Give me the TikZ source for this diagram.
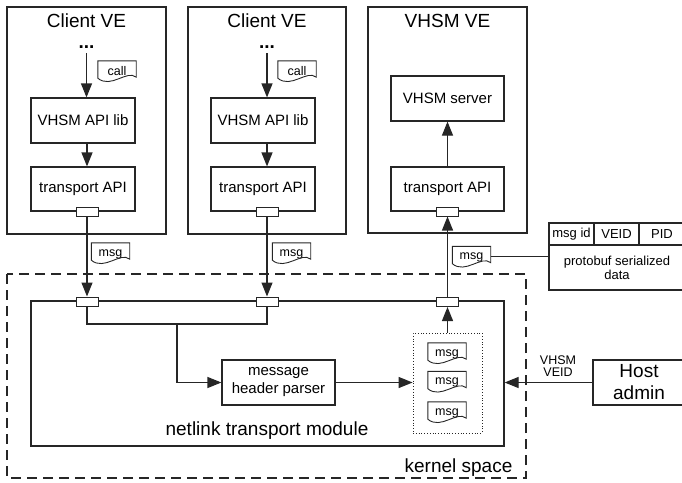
\documentclass[tikz,border=0pt]{standalone}
\usepackage{fontspec}
\setmainfont{Liberation Sans}
\usetikzlibrary{arrows.meta,calc}

\newcommand\fbig{\fontsize{19}{22}\selectfont}
\newcommand\fmid{\fontsize{15}{18}\selectfont}
\newcommand\fsml{\fontsize{12.5}{14}\selectfont}
\newcommand\ftab{\fontsize{13}{15}\selectfont}

% outline of a "document" symbol around a named node
\newcommand\docedge[1]{%
  \draw[ln,line width=0.9pt] (#1.north west) -- (#1.north east) -- ([yshift=4pt]#1.south east)
    .. controls ([xshift=-9pt,yshift=12pt]#1.south east) and ([xshift=13pt,yshift=-8pt]#1.south west)
    .. ([yshift=3pt]#1.south west) -- cycle;}

\tikzset{
  ln/.style={line width=1.2pt, draw=black!85},
  box/.style={draw=black!85, line width=1.2pt, inner sep=0pt, align=center, font=\fmid},
  arr/.style={ln, -{Triangle[length=14pt,width=11pt]}},
  port/.style={draw=black!85, line width=1pt, fill=white, minimum width=22pt, minimum height=9pt, inner sep=0pt},
  doc/.style={minimum width=38pt, minimum height=20pt, inner sep=0pt, font=\fsml, text depth=0pt},
}

\begin{document}
\begin{tikzpicture}[x=1pt,y=-1pt]
\useasboundingbox (0,0) rectangle (682,482);
\clip (0,0) rectangle (682,482);

% ---- virtual environments ----
\node[box, minimum width=159pt, minimum height=227pt] (ve1) at (86.5,120.5) {};
\node[box, minimum width=158pt, minimum height=227pt] (ve2) at (267,120.5) {};
\node[box, minimum width=159pt, minimum height=226pt] (ve3) at (447.5,120) {};
\node[font=\fbig, anchor=base] (t1) at (86.5,27) {Client VE};
\node[font=\fbig, anchor=base] (t2) at (267,27) {Client VE};
\node[font=\fbig, anchor=base] (t3) at (447.5,27) {VHSM VE};

% client 1
\node[font=\fbig\bfseries, inner sep=0pt, anchor=base] (dots1) at (86.5,48) {...};
\node[box, minimum width=104pt, minimum height=45pt] (api1) at (83,120.5) {VHSM API lib};
\node[box, minimum width=104pt, minimum height=44pt] (tr1) at (83,189) {transport API};
\node[port] (vp1) at (87,211.5) {};
\node[doc] (call1) at (117,71) {call};
\docedge{call1}

% client 2
\node[font=\fbig\bfseries, inner sep=0pt, anchor=base] (dots2) at (267,48) {...};
\node[box, minimum width=104pt, minimum height=45pt] (api2) at (263,120.5) {VHSM API lib};
\node[box, minimum width=104pt, minimum height=44pt] (tr2) at (263,189) {transport API};
\node[port] (vp2) at (267,211.5) {};
\node[doc] (call2) at (297,71) {call};
\docedge{call2}

% VHSM VE
\node[box, minimum width=113pt, minimum height=45pt] (srv) at (447.5,98.5) {VHSM server};
\node[box, minimum width=113pt, minimum height=44pt] (tr3) at (447.5,189) {transport API};
\node[port] (vp3) at (447.5,211.5) {};

% ---- kernel space ----
\draw[ln, dash pattern=on 10pt off 6pt] (7,274) rectangle (526,478);
\node[font=\fbig, anchor=base] (ks) at (458.5,472) {kernel space};
\node[box, minimum width=473pt, minimum height=145pt] (nl) at (267.5,373.5) {};
\node[font=\fbig, anchor=base] (nlt) at (267,435) {netlink transport module};
\node[box, minimum width=113pt, minimum height=45pt] (parser) at (278.5,382.5) {message\\header parser};
\node[draw=black!85, line width=0.8pt, dotted, minimum width=69pt, minimum height=100pt, inner sep=0pt] (queue) at (447.5,383) {};
\node[doc] (q1) at (447,353) {msg};
\node[doc] (q2) at (447,381.5) {msg};
\node[doc] (q3) at (447,412) {msg};
\docedge{q1}\docedge{q2}\docedge{q3}

% messages on the wire
\node[doc] (m1) at (110.5,253) {msg};
\node[doc] (m2) at (291.5,253) {msg};
\node[doc] (m3) at (471.5,256.5) {msg};
\docedge{m1}\docedge{m2}\docedge{m3}

% message layout
\node[draw=black!85, line width=1.1pt, minimum width=136pt, minimum height=67pt, inner sep=0pt] (pkt) at (617,256.5) {};
\coordinate (c1) at (594,223);
\coordinate (c2) at (639,223);
\coordinate (hr) at (549,245);
\draw[ln, line width=1.1pt] (hr) -- (hr -| pkt.east);
\draw[ln, line width=1.1pt] (c1) -- (c1 |- hr);
\draw[ln, line width=1.1pt] (c2) -- (c2 |- hr);
\node[font=\ftab] (fid) at (571.5,234) {msg id};
\node[font=\ftab] (fveid) at (616.5,234) {VEID};
\node[font=\ftab] (fpid) at (662,234) {PID};
\node[font=\ftab, align=center] (fbody) at (617,268) {protobuf serialized\\[-1pt]data};
\draw[ln, line width=1.1pt] (m3.east) -- (pkt.west |- m3.east);

% host admin
\node[box, font=\fbig, minimum width=92pt, minimum height=45pt] (host) at (639,382.5) {Host\\admin};
\node[font=\fsml, align=center, anchor=south] (lbl) at (558,380) {VHSM\\[-2pt]VEID};

% netlink ports
\node[port] (np1) at (87,301.5) {};
\node[port] (np2) at (267,301.5) {};
\node[port] (np3) at (447.5,302) {};

% ---- connectors ----
\draw[arr] (dots1.south |- 0,53) -- (dots1.south |- api1.north);
\draw[arr] (vp1 |- api1.south) -- (vp1 |- tr1.north);
\draw[arr] (dots2.south |- 0,53) -- (dots2.south |- api2.north);
\draw[arr] (vp2 |- api2.south) -- (vp2 |- tr2.north);
\draw[arr] (tr3.north) -- (srv.south);

\draw[arr] (vp1.south) -- (np1.north);
\draw[arr] (vp2.south) -- (np2.north);
\draw[arr] (np3.north) -- (vp3.south);
\draw[arr] (queue.north) -- (np3.south);

\coordinate (split) at (177,324);
\draw[ln] (np1.south) |- (split) -| (np2.south);
\draw[arr] (split) |- (parser.west);
\draw[arr] (parser.east) -- (queue.west |- parser.east);
\draw[arr] (host.west) -- (nl.east |- host.west);
\end{tikzpicture}
\end{document}
